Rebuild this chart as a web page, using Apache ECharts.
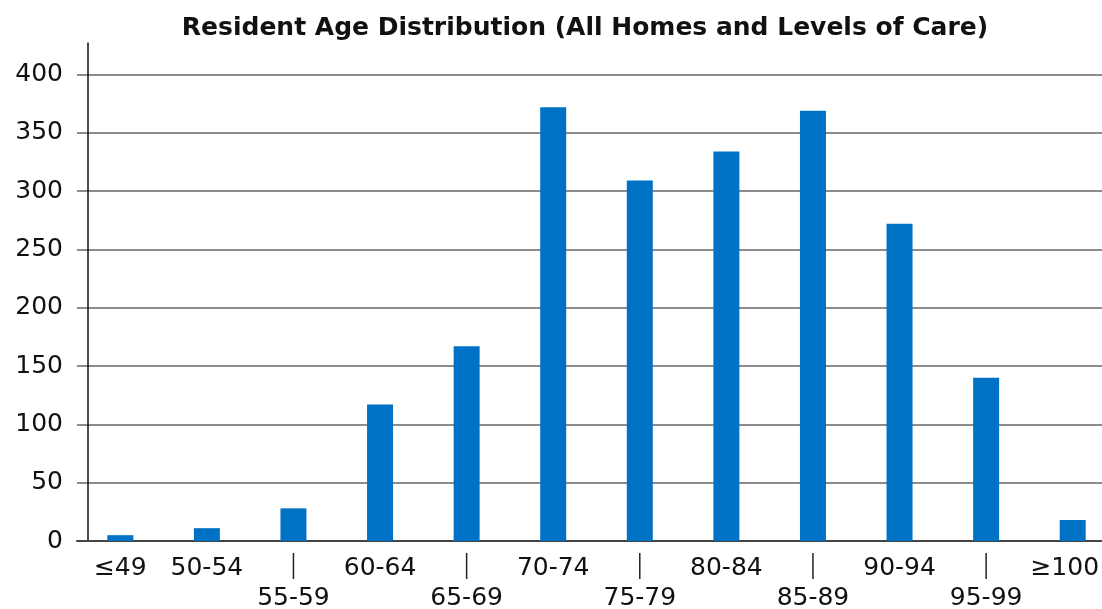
<!DOCTYPE html>
<html>
<head>
<meta charset="utf-8">
<script src="https://cdn.jsdelivr.net/npm/echarts@6/dist/echarts.min.js"></script>
<style>
html,body{margin:0;padding:0;background:#fff;}
#chart{width:1102px;height:609px;}
</style>
</head>
<body>
<div id="chart"></div>
<script>
const titleText = 'Resident Age Distribution (All Homes and Levels of Care)';
const categories = ['≤49','50-54','55-59','60-64','65-69','70-74','75-79','80-84','85-89','90-94','95-99','≥100'];
const residents = [5, 11, 28, 117, 167, 372, 309, 334, 369, 272, 140, 18];
const yMin = 0;
const yMax = 427;
const yInterval = 50;

const chart = echarts.init(document.getElementById('chart'), null, {renderer: 'canvas'});
const labelFont = 'DejaVu Sans';
chart.setOption({
  animation: false,
  backgroundColor: '#ffffff',
  title: {
    text: titleText,
    left: 580,
    textAlign: 'center',
    top: 11,
    textStyle: {fontFamily: 'DejaVu Sans', fontWeight: 'bold', fontSize: 25, color: '#111111'}
  },
  grid: {left: 77, right: -14, top: 43, bottom: 68, containLabel: false, outerBoundsMode: 'none'},
  xAxis: {
    type: 'category',
    data: categories,
    boundaryGap: true,
    axisLine: {show: true, lineStyle: {color: '#444444', width: 2}},
    axisTick: {show: false},
    axisLabel: {
      interval: 0,
      margin: 12,
      hideOverlap: false,
      formatter: function (v, i) {
        if (i === categories.length - 1) return '{t3|' + v + '}';
        return (i % 2 === 0 && i > 0) ? '{ln|}\n{t2|' + v + '}' : '{t|' + v + '}';
      },
      rich: {
        t: {fontFamily: labelFont, fontSize: 25, lineHeight: 30, color: '#111111', align: 'center'},
        t2: {fontFamily: labelFont, fontSize: 25, lineHeight: 38, color: '#111111', align: 'center'},
        t3: {fontFamily: labelFont, fontSize: 25, lineHeight: 30, color: '#111111', align: 'center', padding: [0, 16, 0, 0]},
        ln: {width: 1.5, height: 26, backgroundColor: '#222222', align: 'center'}
      }
    }
  },
  yAxis: {
    type: 'value',
    min: yMin,
    max: yMax,
    interval: yInterval,
    offset: -11,
    axisLine: {show: true, lineStyle: {color: '#111111', width: 1.5}},
    axisTick: {show: false},
    axisLabel: {
      margin: 25,
      showMaxLabel: false,
      fontFamily: labelFont,
      fontSize: 25,
      color: '#111111'
    },
    splitLine: {show: true, showMaxLine: false, lineStyle: {color: '#666666', width: 1.5}}
  },
  series: [{
    type: 'bar',
    data: residents,
    barWidth: 26,
    itemStyle: {color: '#0072C6'}
  }]
});
</script>
</body>
</html>
